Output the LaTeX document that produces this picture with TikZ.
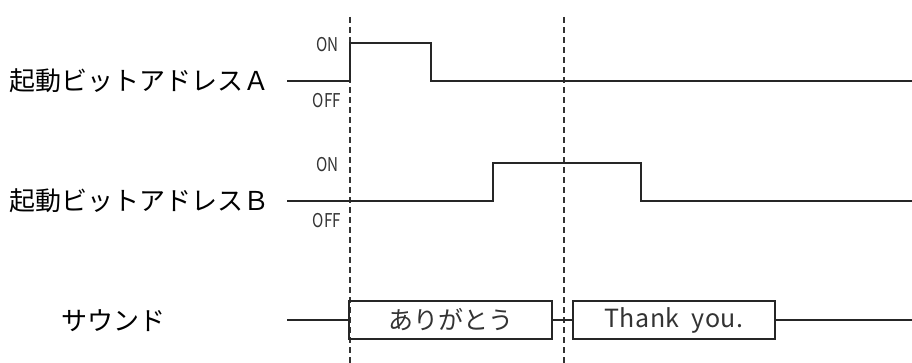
\documentclass[tikz,border=0pt]{standalone}
\usepackage{fontspec}
\setmainfont{Noto Sans CJK JP}
\begin{document}
\begin{tikzpicture}[x=1pt,y=-1pt]
\tikzset{
  sig/.style={line width=1.4pt, line join=miter, draw=black!85},
  guide/.style={line width=1.3pt, draw=black!80, dash pattern=on 6pt off 4pt},
  rowlabel/.style={font=\fontsize{26}{26}\selectfont, anchor=west, inner sep=0pt},
  statelabel/.style={font=\fontsize{19}{19}\selectfont, text=black!80, anchor=east, inner sep=0pt, xscale=0.8},
  soundbox/.style={draw=black!85, line width=1.4pt, minimum height=38pt, inner sep=0pt, text=black!80, font=\fontsize{25}{25}\selectfont}
}
\useasboundingbox (0,0) rectangle (912,363);
% guides
\coordinate (g1t) at (350,17); \coordinate (g1b) at (350,363);
\coordinate (g2t) at (564,17); \coordinate (g2b) at (564,363);
\draw[guide] (g1t) -- (g1b);
\draw[guide] (g2t) -- (g2b);
% row labels
\node[rowlabel] (la) at (9,81) {起動ビットアドレスＡ};
\node[rowlabel] (lb) at (9,201) {起動ビットアドレスＢ};
\node[rowlabel] (ls) at (61,321) {サウンド};
% state labels
\node[statelabel] (aon) at (339,45) {ON};
\node[statelabel] (aoff) at (341,101) {OFF};
\node[statelabel] (bon) at (339,165) {ON};
\node[statelabel] (boff) at (341,221) {OFF};
% signal A
\coordinate (a0) at (287,81);
\coordinate (a1) at (912,81);
\draw[sig] (a0) -- (350,81) -- (350,43) -- (431,43) -- (431,81) -- (a1);
% signal B
\coordinate (b0) at (287,201);
\coordinate (b1) at (912,201);
\draw[sig] (b0) -- (493,201) -- (493,163) -- (641,163) -- (641,201) -- (b1);
% sound
\node[soundbox, minimum width=203pt] (s1) at (450.5,320) {ありがとう};
\node[soundbox, minimum width=202pt] (s2) at (674,320) {\addfontfeatures{LetterSpace=2}Thank\ \ you.};
\coordinate (s0) at (287,320);
\coordinate (s3) at (912,320);
\draw[sig] (s0) -- (s1.west);
\draw[sig] (s1.east) -- (s2.west);
\draw[sig] (s2.east) -- (s3);
\end{tikzpicture}
\end{document}
